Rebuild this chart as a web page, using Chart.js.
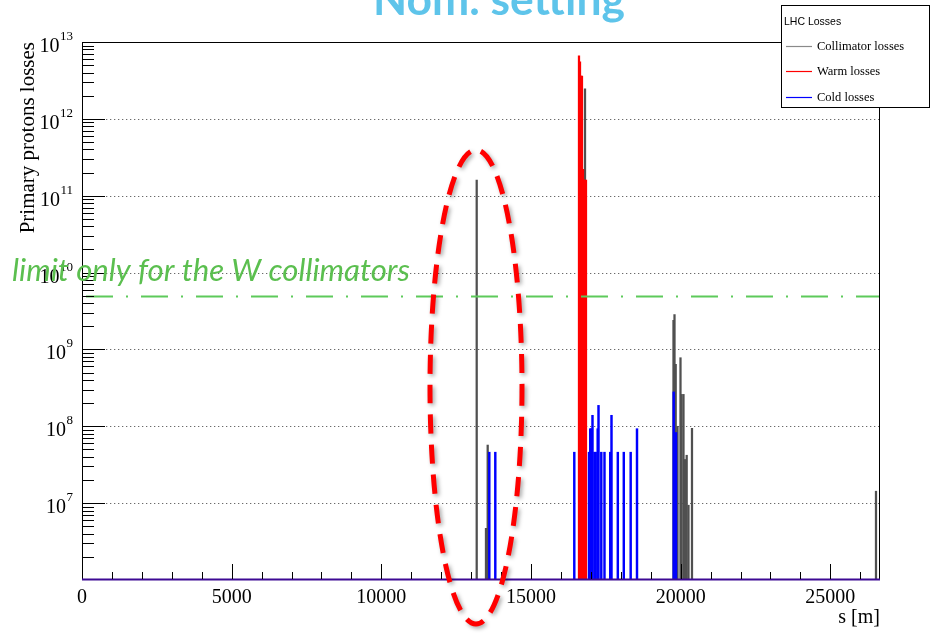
<!DOCTYPE html>
<html>
<head>
<meta charset="utf-8">
<script src="https://cdn.jsdelivr.net/npm/chart.js@4/dist/chart.umd.min.js"></script>
<style>
  html, body { margin: 0; padding: 0; background: #fff; overflow: hidden; }
  #wrap { position: relative; width: 932px; height: 634px; }
</style>
</head>
<body>
<div id="wrap"><canvas id="c" width="932" height="634"></canvas></div>
<script>
// LHC ring, primary proton losses along s (nominal setting)
const RING_LENGTH = 26659;          // m
const Y_MIN = 1e6;
const Y_MAX = 1e13;
const LIMIT_W = 5e9;                // loss limit for the W collimators

// Collimator losses
const COLLIMATOR_S    = [13186, 13496, 13553, 16804, 19760, 19794, 19834, 19894, 19994, 20028, 20094, 20144, 20201, 20261, 20378, 26525];
const COLLIMATOR_LOSS = [1.6e11, 4.7e6, 5.7e7, 2.45e12, 2.4e9, 2.85e9, 6.4e8, 1.0e8, 7.8e8, 2.6e8, 2.6e8, 3.7e7, 4.2e7, 9.4e6, 9.4e7, 1.43e7];

// Warm losses
const WARM_S    = [16603, 16637, 16670, 16703, 16737, 16770, 16804, 16837];
const WARM_LOSS = [6.6e12, 5.5e12, 3.6e12, 3.6e12, 2.2e11, 1.6e11, 1.6e11, 1.6e11];

// Cold losses
const COLD_S    = [13607, 13807, 16446, 16938, 16979, 17013, 17054, 17121, 17161, 17228, 17255, 17348, 17455, 17646, 17689, 17900, 18100, 18330, 18541, 19767, 19844];
const COLD_LOSS = [4.6e7, 4.6e7, 4.6e7, 4.6e7, 9.3e7, 9.3e7, 1.39e8, 4.6e7, 4.6e7, 9.3e7, 1.87e8, 4.6e7, 4.6e7, 4.6e7, 1.39e8, 4.6e7, 4.6e7, 4.6e7, 9.3e7, 2.8e8, 8.3e7];

// Axis tick labels
const X_TICKS = [0, 5000, 10000, 15000, 20000, 25000];
const Y_EXPONENTS = [7, 8, 9, 10, 11, 12, 13];

const LEGEND_TITLE = 'LHC Losses';
const SERIES_NAMES = ['Collimator losses', 'Warm losses', 'Cold losses'];

const SERIF = '"Liberation Serif", "DejaVu Serif", serif';
const SANS = '"Liberation Sans", Arial, sans-serif';

function floating(sArr, vArr) {
  return sArr.map((s, i) => ({ x: s, y: [Y_MIN, vArr[i]] }));
}

const datasets = [
  { label: SERIES_NAMES[0], data: floating(COLLIMATOR_S, COLLIMATOR_LOSS),
    backgroundColor: '#505050', legendColor: '#8a8a8a', barThickness: 1.6, order: 3 },
  { label: SERIES_NAMES[1], data: floating(WARM_S, WARM_LOSS),
    backgroundColor: '#ff0000', legendColor: '#ff0000', barThickness: 1.6, order: 2 },
  { label: SERIES_NAMES[2], data: floating(COLD_S, COLD_LOSS),
    backgroundColor: '#0000ff', legendColor: '#0000ff', barThickness: 1.8, order: 1 }
].map(d => Object.assign({ type: 'bar', borderWidth: 0, grouped: false }, d));

function line(ctx, x1, y1, x2, y2) {
  ctx.beginPath(); ctx.moveTo(x1, y1); ctx.lineTo(x2, y2); ctx.stroke();
}

const decor = {
  id: 'decor',
  beforeDatasetsDraw(chart) {
    const ctx = chart.ctx;
    const { left, right } = chart.chartArea;
    const ys = chart.scales.y;
    ctx.save();
    ctx.strokeStyle = '#6a6a6a';
    ctx.lineWidth = 1;
    ctx.setLineDash([1.3, 2.7]);
    Y_EXPONENTS.forEach(e => {
      const py = Math.round(ys.getPixelForValue(Math.pow(10, e))) + 0.5;
      line(ctx, left, py, right, py);
    });
    ctx.restore();
  },
  afterDatasetsDraw(chart) {
    const ctx = chart.ctx;
    const { left, right, top, bottom } = chart.chartArea;
    const xs = chart.scales.x, ys = chart.scales.y;

    ctx.save();
    // W collimator limit
    const ly = Math.round(ys.getPixelForValue(LIMIT_W)) + 0.5;
    ctx.strokeStyle = '#5dca5a';
    ctx.lineWidth = 2.2;
    ctx.setLineDash([27, 13, 2, 13]);
    line(ctx, left + 4, ly, right, ly);
    ctx.setLineDash([]);

    // frame
    ctx.strokeStyle = '#000';
    ctx.lineWidth = 1;
    line(ctx, left + 0.5, top, left + 0.5, bottom);
    line(ctx, left, top + 0.5, right, top + 0.5);
    line(ctx, right - 0.5, top, right - 0.5, bottom);
    ctx.strokeStyle = '#3d0a94';
    ctx.lineWidth = 2;
    line(ctx, left, bottom - 0.5, right, bottom - 0.5);

    // y ticks (log: decades and 2..9 sub-divisions)
    ctx.strokeStyle = '#000';
    ctx.lineWidth = 1;
    for (let e = 6; e <= 12; e++) {
      for (let k = 1; k <= 9; k++) {
        const v = k * Math.pow(10, e);
        if (v <= Y_MIN) continue;
        const py = Math.round(ys.getPixelForValue(v)) + 0.5;
        line(ctx, left, py, left + (k === 1 ? 23 : 12), py);
      }
    }
    // x ticks every 1000 m, long ones every 5000 m
    for (let s = 1000; s < RING_LENGTH; s += 1000) {
      const px = Math.round(xs.getPixelForValue(s)) + 0.5;
      line(ctx, px, bottom - 1, px, bottom - (s % 5000 === 0 ? 16 : 8));
    }

    // x tick labels
    ctx.fillStyle = '#000';
    ctx.font = '20px ' + SERIF;
    ctx.textAlign = 'center';
    ctx.textBaseline = 'alphabetic';
    X_TICKS.forEach(s => {
      ctx.fillText(String(s), xs.getPixelForValue(s), 603);
    });

    // y tick labels 10^n
    Y_EXPONENTS.forEach(e => {
      const py = ys.getPixelForValue(Math.pow(10, e));
      const sup = String(e);
      ctx.font = '13px ' + SERIF;
      ctx.textAlign = 'right';
      const supW = ctx.measureText(sup).width;
      ctx.fillText(sup, 73, py - 2);
      ctx.font = '20px ' + SERIF;
      ctx.fillText('10', 73 - supW - 0.5, py + 10);
    });

    // axis titles
    ctx.font = '20px ' + SERIF;
    ctx.textAlign = 'right';
    ctx.fillText('s [m]', right, 623);
    ctx.save();
    ctx.translate(34, top);
    ctx.rotate(-Math.PI / 2);
    ctx.font = '21px ' + SERIF;
    ctx.textAlign = 'right';
    ctx.fillText('Primary protons losses', 0, 0);
    ctx.restore();

    // legend
    ctx.fillStyle = '#fff';
    ctx.fillRect(781, 5, 149, 103);
    ctx.strokeStyle = '#000';
    ctx.lineWidth = 1;
    ctx.strokeRect(781.5, 5.5, 148, 102);
    ctx.fillStyle = '#000';
    ctx.textAlign = 'left';
    ctx.textBaseline = 'middle';
    ctx.font = '10.5px ' + SANS;
    ctx.fillText(LEGEND_TITLE, 784, 22);
    ctx.font = '12.5px ' + SERIF;
    const rows = [46.5, 71.5, 97.5];
    chart.data.datasets.forEach((d, i) => {
      ctx.strokeStyle = d.legendColor;
      ctx.lineWidth = 1.2;
      line(ctx, 786, rows[i], 812, rows[i]);
      ctx.fillStyle = '#000';
      ctx.fillText(d.label, 817, rows[i]);
    });

    // slide title
    ctx.textBaseline = 'alphabetic';
    ctx.textAlign = 'center';
    ctx.font = 'bold 40px Lato';
    let w = ctx.measureText('Nom. setting').width;
    ctx.font = 'bold ' + (40 * 252 / w).toFixed(2) + 'px Lato';
    ctx.fillStyle = '#5ec4ea';
    ctx.fillText('Nom. setting', 499, 15);

    // annotation for the limit line
    ctx.textAlign = 'left';
    ctx.font = 'italic 30px Lato';
    w = ctx.measureText('limit only for the W collimators').width;
    ctx.font = 'italic ' + (30 * 398 / w).toFixed(2) + 'px Lato';
    ctx.fillStyle = '#5bbf4f';
    ctx.fillText('limit only for the W collimators', 12, 281);

    // highlighted region
    ctx.save();
    ctx.shadowColor = 'rgba(0,0,0,0.35)';
    ctx.shadowBlur = 4;
    ctx.shadowOffsetX = 2;
    ctx.shadowOffsetY = 2;
    ctx.strokeStyle = '#ff0000';
    ctx.lineWidth = 5;
    ctx.setLineDash([19, 11]);
    ctx.beginPath();
    ctx.ellipse(476, 387, 46, 237, 0, 0, Math.PI * 2);
    ctx.stroke();
    ctx.restore();

    ctx.restore();
  }
};

new Chart(document.getElementById('c'), {
  data: { datasets },
  options: {
    responsive: false,
    animation: false,
    devicePixelRatio: 1,
    layout: { padding: { left: 82, top: 42, right: 52, bottom: 54 } },
    scales: {
      x: { type: 'linear', min: 0, max: RING_LENGTH, offset: false, display: false },
      y: { type: 'logarithmic', min: Y_MIN, max: Y_MAX, display: false }
    },
    plugins: { legend: { display: false }, tooltip: { enabled: false } }
  },
  plugins: [decor]
});
</script>
</body>
</html>
